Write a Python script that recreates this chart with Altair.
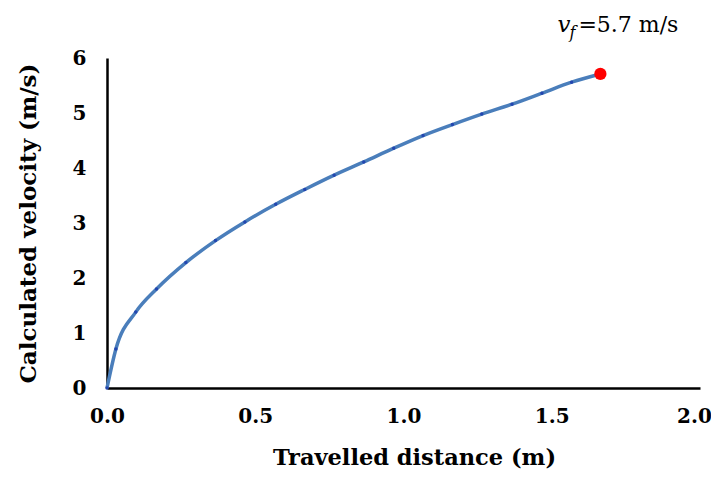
import altair as alt
import pandas as pd

distance = [0.0, 0.030, 0.097, 0.167, 0.266, 0.366, 0.465, 0.569, 0.667, 0.766,
            0.866, 0.967, 1.066, 1.165, 1.264, 1.366, 1.467, 1.567, 1.664]
velocity = [0.0, 0.71, 1.38, 1.80, 2.28, 2.68, 3.02, 3.34, 3.61, 3.87,
            4.11, 4.36, 4.59, 4.79, 4.98, 5.16, 5.36, 5.56, 5.71]
final_label = "=5.7 m/s"
x_ticks = [0.0, 0.5, 1.0, 1.5, 2.0]
y_ticks = [0, 1, 2, 3, 4, 5, 6]

df = pd.DataFrame({"d": distance, "v": velocity})
final = df.tail(1)

serif = "DejaVu Serif"

x = alt.X("d:Q", scale=alt.Scale(domain=[0, 2], nice=False),
          axis=alt.Axis(title="Travelled distance (m)", values=x_ticks, format=".1f",
                        grid=False, ticks=False, domainColor="black", domainWidth=2.5,
                        labelFlush=False, labelFont=serif, labelFontWeight="bold",
                        labelFontSize=20, labelColor="black", labelPadding=18,
                        labelOffset={"condition": {"test": "datum.value >= 2", "value": -6}, "value": 0},
                        titleFont=serif, titleFontWeight="bold", titleFontSize=22.5,
                        titleColor="black", titlePadding=20, titleX=307))
y = alt.Y("v:Q", scale=alt.Scale(domain=[0, 6], nice=False),
          axis=alt.Axis(title="Calculated velocity (m/s)", values=y_ticks, format="d",
                        grid=False, ticks=False, domainColor="black", domainWidth=2.5,
                        labelFlush=False, labelFont=serif, labelFontWeight="bold",
                        labelFontSize=20, labelColor="black", labelPadding=21,
                        titleFont=serif, titleFontWeight="bold", titleFontSize=23,
                        titleColor="black", titlePadding=32))

line = alt.Chart(df).mark_line(color="#4A7EBB", strokeWidth=3.5, interpolate="monotone", clip=False).encode(x=x, y=y)
dots = alt.Chart(df).mark_circle(color="#2346B0", size=12, opacity=1, clip=False).encode(x="d:Q", y="v:Q")
red = alt.Chart(final).mark_circle(color="#FF0000", size=150, opacity=1, clip=False).encode(x="d:Q", y="v:Q")

t_v = alt.Chart(final).mark_text(text="v", font=serif, fontStyle="italic", fontSize=23,
                                 align="left", baseline="alphabetic", dx=-43, dy=-42,
                                 color="black", clip=False).encode(x="d:Q", y="v:Q")
t_f = alt.Chart(final).mark_text(text="f", font=serif, fontStyle="italic", fontSize=16,
                                 align="left", baseline="alphabetic", dx=-31, dy=-36,
                                 color="black", clip=False).encode(x="d:Q", y="v:Q")
t_rest = alt.Chart(final).mark_text(text=final_label, font=serif, fontSize=22,
                                    align="left", baseline="alphabetic", dx=-22, dy=-42,
                                    color="black", clip=False).encode(x="d:Q", y="v:Q")

chart = (line + dots + red + t_v + t_f + t_rest).properties(
    width=593, height=330,
    autosize=alt.AutoSizeParams(type="none"),
    padding={"left": 99, "top": 50, "right": 11, "bottom": 84},
).configure_view(stroke=None)

chart.save("out.html", embed_options={"renderer": "svg", "actions": False})
